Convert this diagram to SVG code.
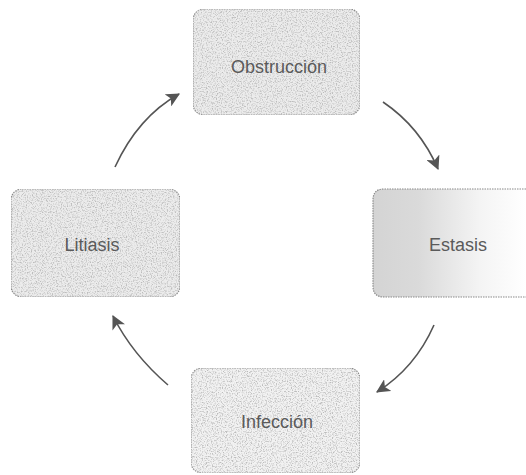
<svg xmlns="http://www.w3.org/2000/svg" width="526" height="475" viewBox="0 0 526 475">
<style>
.box{stroke:#8a8a8a;stroke-width:1.2;stroke-dasharray:1.5 1}
.lbl{font-family:"Liberation Sans",Arial,sans-serif;font-size:18px;fill:#5a5a5a;text-anchor:middle}
.conn{fill:none;stroke:#555;stroke-width:1.6}
</style>
<defs>
<filter id="stip" x="0" y="0" width="100%" height="100%">
<feTurbulence type="fractalNoise" baseFrequency="0.8" numOctaves="2" seed="3" result="n"/>
<feColorMatrix in="n" type="matrix" values="0 0 0 0 0.5  0 0 0 0 0.5  0 0 0 0 0.5  0 0 0 -3 1.65" result="d"/>
<feComposite in="d" in2="SourceGraphic" operator="in" result="dots"/>
<feMerge><feMergeNode in="SourceGraphic"/><feMergeNode in="dots"/></feMerge>
</filter>
<linearGradient id="fade" x1="0" y1="0" x2="1" y2="0">
<stop offset="0" stop-color="#d4d4d4"/>
<stop offset="0.3" stop-color="#dadada"/>
<stop offset="0.7" stop-color="#f4f4f4"/>
<stop offset="1" stop-color="#ffffff"/>
</linearGradient>
<marker id="ah2" viewBox="0 0 12 12" refX="11" refY="6" markerWidth="14" markerHeight="14" markerUnits="userSpaceOnUse" orient="auto">
<path d="M0,0 L12,6 L0,12 L3,6 Z" fill="#555"/>
</marker>
</defs>
<g id="obstruccion">
<rect class="box" x="193" y="9" width="167" height="106" rx="11" fill="#ececec" filter="url(#stip)"/>
<text class="lbl" x="279" y="73">Obstrucción</text>
</g>
<g id="estasis">
<path class="box" d="M526,189 L384,189 Q373,189 373,200 L373,286 Q373,297 384,297 L526,297" fill="url(#fade)"/>
<text class="lbl" x="458" y="251">Estasis</text>
</g>
<g id="litiasis">
<rect class="box" x="11" y="189" width="169" height="108" rx="11" fill="#ececec" filter="url(#stip)"/>
<text class="lbl" x="92" y="251">Litiasis</text>
</g>
<g id="infeccion">
<rect class="box" x="191" y="368" width="169" height="105" rx="11" fill="#f2f2f2" filter="url(#stip)"/>
<text class="lbl" x="277" y="428">Infección</text>
</g>
<g id="connectors">
<path class="conn" d="M115,167 Q138,117 179,94" marker-end="url(#ah2)"/>
<path class="conn" d="M383,102 Q420,127 438,169" marker-end="url(#ah2)"/>
<path class="conn" d="M434,325 Q415,368 377,392" marker-end="url(#ah2)"/>
<path class="conn" d="M168,385 Q132,354 113,316" marker-end="url(#ah2)"/>
</g>
</svg>
